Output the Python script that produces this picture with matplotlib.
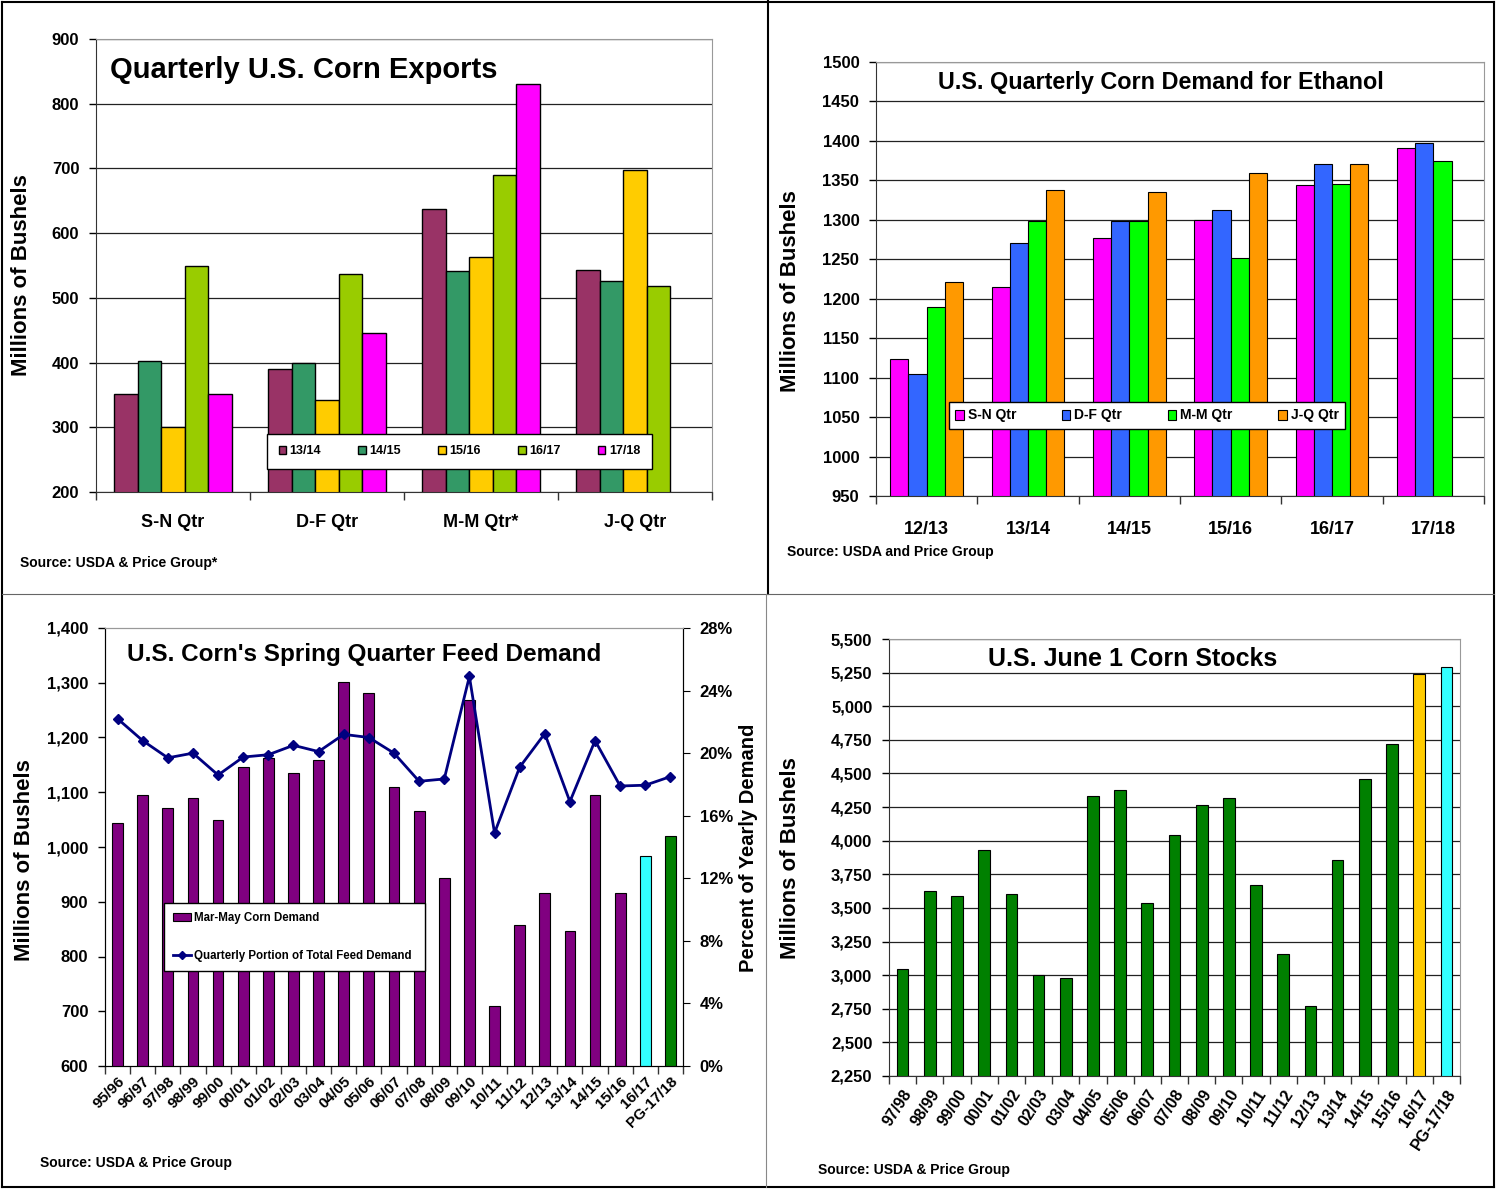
import matplotlib.pyplot as plt
import numpy as np
from matplotlib.ticker import FuncFormatter, MultipleLocator, FixedLocator
from matplotlib.lines import Line2D
from matplotlib.patches import Patch

## datos ##
exp_quarters = ['S-N Qtr', 'D-F Qtr', 'M-M Qtr*', 'J-Q Qtr']
exp_years = ['13/14', '14/15', '15/16', '16/17', '17/18']
exp_13_14 = [351, 390, 637, 543]
exp_14_15 = [402, 400, 541, 526]
exp_15_16 = [301, 342, 563, 697]
exp_16_17 = [549, 537, 690, 518]
exp_17_18 = [351, 446, 830]
exp_colors = ['#993366', '#339966', '#FFCC00', '#99CC00', '#FF00FF']

eth_years = ['12/13', '13/14', '14/15', '15/16', '16/17', '17/18']
eth_quarters = ['S-N Qtr', 'D-F Qtr', 'M-M Qtr', 'J-Q Qtr']
eth_sn = [1123, 1215, 1277, 1300, 1344, 1391]
eth_df = [1105, 1270, 1299, 1313, 1371, 1397]
eth_mm = [1190, 1298, 1299, 1251, 1346, 1375]
eth_jq = [1221, 1338, 1335, 1359, 1371]
eth_colors = ['#FF00FF', '#3366FF', '#00FF00', '#FF9900']

feed_years = ['95/96', '96/97', '97/98', '98/99', '99/00', '00/01', '01/02', '02/03',
              '03/04', '04/05', '05/06', '06/07', '07/08', '08/09', '09/10', '10/11',
              '11/12', '12/13', '13/14', '14/15', '15/16', '16/17', 'PG-17/18']
feed_demand = [1044, 1095, 1072, 1090, 1049, 1147, 1163, 1135, 1159, 1302, 1281, 1109,
               1066, 944, 1269, 709, 858, 916, 846, 1095, 916, 984, 1021]
feed_share = [22.2, 20.8, 19.7, 20.0, 18.6, 19.75, 19.9, 20.5, 20.1, 21.2, 21.0, 20.0,
              18.2, 18.35, 24.9, 14.9, 19.1, 21.25, 16.9, 20.8, 17.9, 17.95, 18.5]

stock_years = ['97/98', '98/99', '99/00', '00/01', '01/02', '02/03', '03/04', '04/05',
               '05/06', '06/07', '07/08', '08/09', '09/10', '10/11', '11/12', '12/13',
               '13/14', '14/15', '15/16', '16/17', 'PG-17/18']
stock_june1 = [3046, 3626, 3592, 3933, 3606, 3000, 2980, 4331, 4374, 3540, 4041, 4266,
               4314, 3674, 3157, 2773, 3859, 4459, 4721, 5238, 5290]

plt.rcParams['font.family'] = ['Liberation Sans', 'DejaVu Sans']
plt.rcParams['font.weight'] = 'bold'

W, H = 1498, 1190
fig = plt.figure(figsize=(W / 100, H / 100), dpi=100)


def fx(x):
    return x / W


def fy(y):
    return 1 - y / H


def px_axes(l, t, r, b):
    return fig.add_axes([l / W, 1 - b / H, (r - l) / W, (b - t) / H])


def ylab(x, y, s, size=16):
    fig.text(fx(x), fy(y), s, rotation=90, ha='center', va='center', fontsize=size, fontweight='bold')


def style(ax, grid=True):
    ax.set_axisbelow(True)
    if grid:
        ax.yaxis.grid(True, color='#222222', lw=0.9)
    ax.spines['top'].set_color('#999999')
    ax.spines['right'].set_color('#999999')
    ax.spines['left'].set_color('#333333')
    ax.spines['bottom'].set_color('#333333')
    ax.tick_params(axis='y', direction='out', length=5, width=1, labelsize=12, pad=7)
    ax.tick_params(axis='x', which='major', length=0, labelsize=13)
    ax.tick_params(axis='x', which='minor', direction='out', length=6, width=1, color='#333333')


comma = FuncFormatter(lambda v, p: f'{v:,.0f}')

# ---- Quarterly exports ----
ax1 = px_axes(96, 39, 712, 492)
w = 0.153
series = [exp_13_14, exp_14_15, exp_15_16, exp_16_17, exp_17_18]
for j, vals in enumerate(series):
    x = np.arange(len(vals)) + (j - 2) * w
    ax1.bar(x, vals, w, color=exp_colors[j], edgecolor='black', lw=1, label=exp_years[j])
ax1.set_xlim(-0.5, 3.5)
ax1.set_ylim(200, 900)
ax1.yaxis.set_major_locator(MultipleLocator(100))
ax1.set_xticks(range(4))
ax1.set_xticklabels(exp_quarters)
ax1.xaxis.set_minor_locator(FixedLocator(np.arange(-0.5, 4, 1)))
style(ax1)
ax1.tick_params(axis='x', which='major', pad=16)
ylab(22, 275, 'Millions of Bushels')
ax1.legend(ncol=5, loc='center', bbox_to_anchor=(fx(261), fy(469), fx(658) - fx(261), fy(434) - fy(469)),
           bbox_transform=fig.transFigure, mode='expand', fontsize=9, handlelength=0.6, handleheight=0.6,
           handletextpad=0.3, fancybox=False, edgecolor='black', framealpha=1, borderpad=0.9,
           columnspacing=1.0)
fig.text(fx(110), fy(70), 'Quarterly U.S. Corn Exports', fontsize=21, va='center', ha='left')
fig.text(fx(20), fy(563), 'Source: USDA & Price Group*', fontsize=10, va='center')

# ---- Ethanol demand ----
ax2 = px_axes(876, 62, 1484, 496)
w = 0.18
for j, vals in enumerate([eth_sn, eth_df, eth_mm, eth_jq]):
    x = np.arange(len(vals)) + (j - 1.5) * w
    ax2.bar(x, vals, w, color=eth_colors[j], edgecolor='black', lw=0.8, label=eth_quarters[j])
ax2.set_xlim(-0.5, 5.5)
ax2.set_ylim(950, 1500)
ax2.yaxis.set_major_locator(MultipleLocator(50))
ax2.set_xticks(range(6))
ax2.set_xticklabels(eth_years)
ax2.xaxis.set_minor_locator(FixedLocator(np.arange(-0.5, 6, 1)))
style(ax2)
ax2.tick_params(axis='x', which='major', pad=18)
ylab(790, 291, 'Millions of Bushels')
ax2.legend(ncol=4, loc='center', bbox_to_anchor=(fx(942), fy(429), fx(1352) - fx(942), fy(402) - fy(429)),
           bbox_transform=fig.transFigure, mode='expand', fontsize=10, handlelength=0.6, handleheight=0.7,
           handletextpad=0.3, fancybox=False, edgecolor='black', framealpha=1, borderpad=0.45,
           columnspacing=1.0)
fig.text(fx(1161), fy(82), 'U.S. Quarterly Corn Demand for Ethanol', fontsize=16.8, va='center', ha='center')
fig.text(fx(787), fy(552), 'Source: USDA and Price Group', fontsize=10, va='center')

# ---- Spring quarter feed demand ----
ax3 = px_axes(105, 628, 683, 1066)
n = len(feed_years)
feed_colors = ['#800080'] * (n - 2) + ['#33FFFF', '#008000']
ax3.bar(range(n), feed_demand, 0.43, color=feed_colors, edgecolor='black', lw=0.8)
ax3.set_xlim(-0.5, n - 0.5)
ax3.set_ylim(600, 1400)
ax3.yaxis.set_major_locator(MultipleLocator(100))
ax3.yaxis.set_major_formatter(comma)
ax3.set_xticks(range(n))
ax3.set_xticklabels(feed_years, rotation=45, ha='right', rotation_mode='anchor')
ax3.xaxis.set_minor_locator(FixedLocator(np.arange(-0.5, n, 1)))
style(ax3, grid=False)
ax3.spines['right'].set_color('#333333')
ax3.tick_params(axis='x', which='major', labelsize=11, pad=6)
ylab(24, 860, 'Millions of Bushels')
ax3b = ax3.twinx()
ax3b.plot(range(n), feed_share, color='#000080', lw=2, marker='D', markersize=5)
ax3b.set_ylim(0, 28)
ax3b.yaxis.set_major_locator(MultipleLocator(4))
ax3b.yaxis.set_major_formatter(FuncFormatter(lambda v, p: f'{v:.0f}%'))
ax3b.tick_params(axis='y', direction='out', length=5, labelsize=12, pad=7)
ax3b.spines['top'].set_color('#999999')
ylab(748, 848, 'Percent of Yearly Demand', size=14.5)
handles = [Patch(facecolor='#800080', edgecolor='black', lw=0.8),
           Line2D([], [], color='#000080', lw=2, marker='D', markersize=4)]
ax3.legend(handles, ['Mar-May Corn Demand', 'Quarterly Portion of Total Feed Demand'], loc='center',
           bbox_to_anchor=(fx(158), fy(977), fx(431) - fx(158), fy(897) - fy(977)),
           bbox_transform=fig.transFigure, mode='expand', fontsize=8.3, handlelength=1.6,
           handletextpad=0.2, fancybox=False, edgecolor='black', framealpha=1, labelspacing=2.3,
           borderpad=0.8)
fig.text(fx(127), fy(655), "U.S. Corn's Spring Quarter Feed Demand", fontsize=17.5, va='center', ha='left')
fig.text(fx(40), fy(1163), 'Source: USDA & Price Group', fontsize=10, va='center')

# ---- June 1 stocks ----
ax4 = px_axes(889, 639, 1460, 1076)
m = len(stock_years)
stock_colors = ['#008000'] * (m - 2) + ['#FFCC00', '#33FFFF']
ax4.bar(range(m), stock_june1, 0.43, color=stock_colors, edgecolor='black', lw=0.8)
ax4.set_xlim(-0.5, m - 0.5)
ax4.set_ylim(2250, 5500)
ax4.yaxis.set_major_locator(MultipleLocator(250))
ax4.yaxis.set_major_formatter(comma)
ax4.set_xticks(range(m))
ax4.set_xticklabels(stock_years, rotation=57, ha='right', rotation_mode='anchor')
ax4.xaxis.set_minor_locator(FixedLocator(np.arange(-0.5, m, 1)))
style(ax4)
ax4.tick_params(axis='x', which='major', labelsize=11.5, pad=8)
ylab(790, 858, 'Millions of Bushels')
fig.text(fx(1133), fy(659), 'U.S. June 1 Corn Stocks', fontsize=18, va='center', ha='center')
fig.text(fx(818), fy(1170), 'Source: USDA & Price Group', fontsize=10, va='center')

# ---- marcos ----
frame = dict(transform=fig.transFigure, color='black')
fig.add_artist(Line2D([fx(2), fx(1494)], [fy(2), fy(2)], lw=1.5, **frame))
fig.add_artist(Line2D([fx(2), fx(2)], [fy(2), fy(1187)], lw=1.5, **frame))
fig.add_artist(Line2D([fx(1494), fx(1494)], [fy(2), fy(1187)], lw=1.5, **frame))
fig.add_artist(Line2D([fx(2), fx(1494)], [fy(1187), fy(1187)], lw=1.5, **frame))
fig.add_artist(Line2D([fx(768), fx(768)], [fy(0), fy(594)], lw=1.5, **frame))
fig.add_artist(Line2D([fx(2), fx(1494)], [fy(594), fy(594)], lw=0.8, transform=fig.transFigure, color='#666666'))
fig.add_artist(Line2D([fx(766), fx(766)], [fy(594), fy(1187)], lw=0.8, transform=fig.transFigure, color='#888888'))

fig.savefig('out.png', dpi=100)
